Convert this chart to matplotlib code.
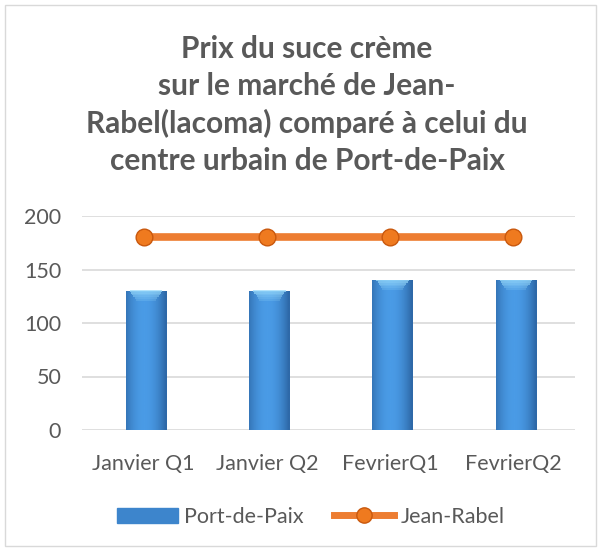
import numpy as np
import matplotlib.pyplot as plt
from matplotlib.patches import Rectangle
from matplotlib.lines import Line2D

categories = ['Janvier Q1', 'Janvier Q2', 'FevrierQ1', 'FevrierQ2']
port_de_paix = [130, 130, 140, 140]
jean_rabel = [180, 180, 180, 180]
title = ('Prix du suce crème\nsur le marché de Jean-\n'
         'Rabel(lacoma) comparé à celui du\ncentre urbain de Port-de-Paix')

TXT = '#595959'
BLUE = '#3d85cc'
ORANGE = '#ed7d31'

plt.rcParams['font.family'] = ['Lato', 'DejaVu Sans']


def main():
	fig = plt.figure(figsize=(6.02, 5.5), dpi=100)
	fig.patches.append(Rectangle((5 / 602, 4 / 550), 591 / 602, 541 / 550,
								 transform=fig.transFigure, fill=False,
								 edgecolor='#d9d9d9', linewidth=1.0))
	ax = fig.add_axes([82 / 602, 1 - 430 / 550, 493 / 602, 214 / 550])

	x = np.arange(len(categories))
	bars = ax.bar(x + 0.02, port_de_paix, width=0.33, color=BLUE, zorder=2)

	# cylinder-like shading on the bars
	grad = np.linspace(0, 1, 64)
	shade = 1 - 0.55 * (grad - 0.45) ** 2 * 4
	cmap = plt.matplotlib.colors.LinearSegmentedColormap.from_list(
		'b', ['#2e69a8', '#4a9be6'])
	for b in bars:
		x0, w, h = b.get_x(), b.get_width(), b.get_height()
		im = ax.imshow(shade[np.newaxis, :], cmap=cmap, aspect='auto',
					   extent=[x0, x0 + w, 0, h], zorder=2.1, vmin=0.4, vmax=1)
		im.set_clip_path(b)
		for k in range(6):
			ax.add_patch(Rectangle((x0 + w * (0.1 + k * 0.03), h - 1 - k * 1.6),
								   w * (0.8 - k * 0.06), 1.6,
								   color='#9bdcfb', alpha=0.75 - k * 0.11,
								   zorder=2.2, linewidth=0))

	ax.plot(x, jean_rabel, color=ORANGE, linewidth=5.5, zorder=3,
			marker='o', markersize=12, markerfacecolor='#ef7a1f',
			markeredgecolor='#c9580d', markeredgewidth=1.0)

	ax.set_xlim(-0.5, len(categories) - 0.5)
	ax.set_ylim(0, 200)
	ax.set_yticks([0, 50, 100, 150, 200])
	ax.set_xticks(x)
	ax.set_xticklabels(categories)
	ax.grid(axis='y', color='#d9d9d9', linewidth=1.2, zorder=0)
	ax.set_axisbelow(True)
	for s in ax.spines.values():
		s.set_visible(False)
	ax.tick_params(length=0, labelsize=15.5, colors=TXT)
	ax.tick_params(axis='y', pad=15)
	ax.tick_params(axis='x', pad=17)

	fig.text(0.51, 1 - 105 / 550, title, ha='center', va='center',
			 fontsize=21.5, fontweight='bold', color=TXT, linespacing=1.37)

	handles = [Rectangle((0, 0), 1, 1, color=BLUE),
			   Line2D([0], [0], color=ORANGE, linewidth=5, marker='o',
					  markersize=11, markerfacecolor='#ef7a1f',
					  markeredgecolor='#c9580d')]
	fig.legend(handles, ['Port-de-Paix', 'Jean-Rabel'], loc='center',
			   bbox_to_anchor=(311 / 602, 1 - 517 / 550), ncol=2, frameon=False,
			   fontsize=15.5, labelcolor=TXT, handlelength=2.8, handletextpad=0.3,
			   columnspacing=1.4)

	fig.savefig('out.png', dpi=100)


if __name__ == '__main__':
	main()
